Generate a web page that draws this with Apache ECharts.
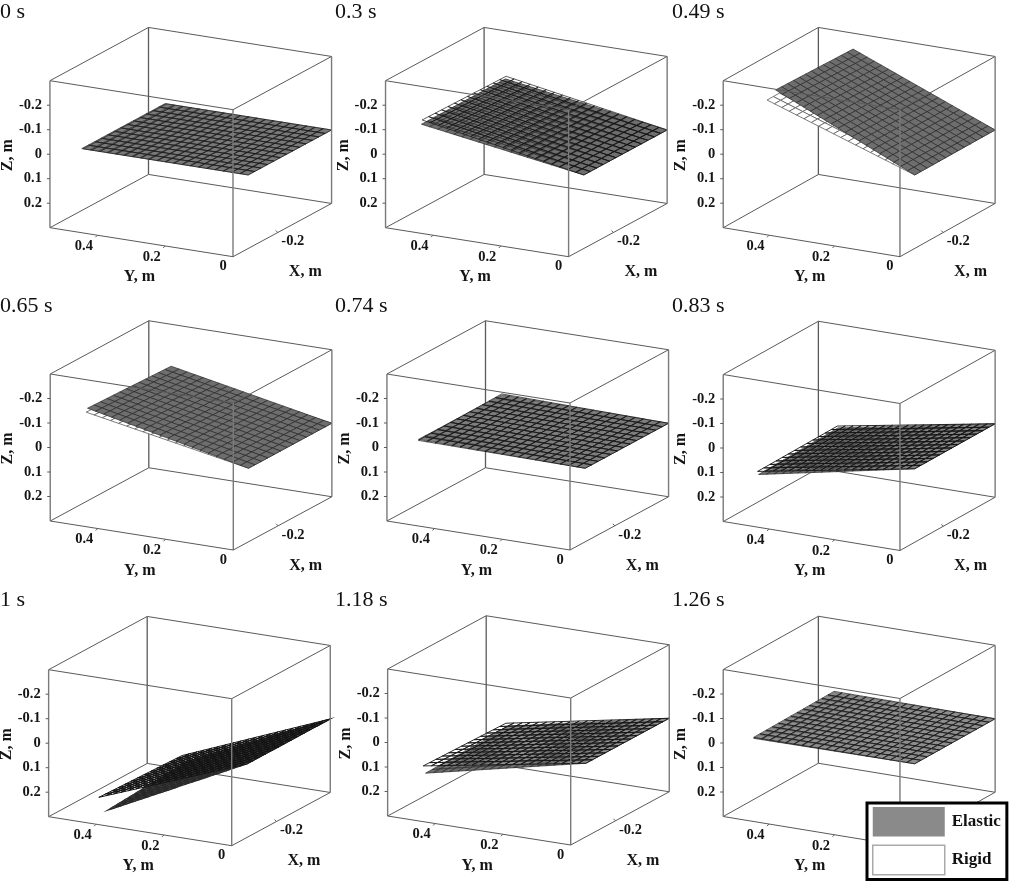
<!DOCTYPE html>
<html>
<head>
<meta charset="utf-8">
<style>
html,body{margin:0;padding:0;background:#fff}
#c{width:1011px;height:883px;filter:blur(0.45px)}
</style>
<script src="https://cdn.jsdelivr.net/npm/echarts@6/dist/echarts.min.js"></script>
</head>
<body>
<div id="c"></div>
<script>
// ---- data ----
const panelTimes  = ['0 s','0.3 s','0.49 s','0.65 s','0.74 s','0.83 s','1 s','1.18 s','1.26 s'];
// free edge of the plate (the edge at Y = 0 stays at Z = 0), metres
const elasticBackY = [0.491,0.477,0.434,0.474,0.492,0.480,0.420,0.472,0.492];
const elasticBackZ = [0.000,-0.104,-0.235,-0.129,-0.008,0.122,0.265,0.135,0.000];
const elasticLeftY = [0.491,0.479,0.425,0.475,0.492,0.477,0.411,0.473,0.492];
const elasticLeftZ = [0.000,-0.102,-0.254,-0.141,-0.010,0.128,0.279,0.144,0.004];
const rigidBackY   = [0.486,0.475,0.451,0.477,0.492,0.482,0.437,0.482,0.492];
const rigidBackZ   = [0.000,-0.115,-0.207,-0.115,-0.012,0.115,0.245,0.126,-0.004];
const rigidLeftY   = [0.486,0.477,0.451,0.479,0.492,0.480,0.437,0.480,0.492];
const rigidLeftZ   = [0.000,-0.120,-0.207,-0.124,-0.006,0.116,0.232,0.116,0.000];
const plateXNear = -0.068, plateXFar = -0.44;
const yTicks = [0.4,0.2,0];
const xTicks = [-0.2];
const zTicks = [-0.2,-0.1,0,0.1,0.2];
const axisY = [0,0.54], axisX = [0,-0.44], axisZ = [-0.3,0.3];
const meshY = 20, meshX = 13;

// ---- layout and drawing style ----
const frontBottom = [[233,256.7],[568.6,256.7],[906.7,256.7],[233.3,550],[570,550],[906.7,550.5],[231.7,845.7],[570.7,845],[906.7,845.5]];
const titleBase = [[0,1],[335,1],[672,1],[0,295],[335,295],[672,295],[0,589],[335,589],[672,589]];
const rigidOnTop  = [true,true,false,false,true,true,true,true,true];
const rigidVeil   = [0.08,0,0,0,0.1,0.14,0.08,0.22,0.22];
const rigidLine   = [0.5,0.7,0.8,0.8,0.7,0.9,1,0.9,0.7];
const elasticLine = [0.7,0.7,0.7,0.7,0.7,0.7,1.1,0.7,0.7];
const GW=310,GH=250,OX=195,OY=8;
// projection: metres -> plot units of each panel's hidden cartesian axes
function proj(X,Y,Z){ const Xp=-X; return [OX+224*Xp-339*Y, OY+73.5+121*Xp+53.7*Y-245*Z]; }
const SERIF='"Liberation Serif","Times New Roman",serif';
const lineC='#5a5a5a';

function plate(p,surf){
  const by=surf?rigidBackY:elasticBackY, bz=surf?rigidBackZ:elasticBackZ, ly=surf?rigidLeftY:elasticLeftY, lz=surf?rigidLeftZ:elasticLeftZ;
  return function(i,j){ // i along Y, j along X
    const s=i/meshY,t=j/meshX;
    const X=plateXNear+(plateXFar-plateXNear)*t;
    const tipY=ly[p]+(by[p]-ly[p])*t, tipZ=lz[p]+(bz[p]-lz[p])*t;
    return [X,tipY*s,tipZ*s];
  };
}
function poly(api,pts,style){
  return {type:'polygon',shape:{points:pts.map(q=>api.coord(proj(q[0],q[1],q[2])))},style:style,silent:true};
}
function seg(api,a,b,stroke,w){
  const A=api.coord(proj(a[0],a[1],a[2])),B=api.coord(proj(b[0],b[1],b[2]));
  return {type:'line',shape:{x1:A[0],y1:A[1],x2:B[0],y2:B[1]},style:{stroke:stroke,lineWidth:w,fill:null},silent:true};
}
const xa=axisX, ya=axisY, za=axisZ;
const C={FB:[xa[0],ya[0],za[1]],FT:[xa[0],ya[0],za[0]],LB:[xa[0],ya[1],za[1]],LT:[xa[0],ya[1],za[0]],
         RB:[xa[1],ya[0],za[1]],RT:[xa[1],ya[0],za[0]],BB:[xa[1],ya[1],za[1]],BT:[xa[1],ya[1],za[0]]};
const backEdges=[['BT','BB'],['BB','LB'],['BB','RB'],['BT','LT'],['BT','RT']];
const frontEdges=[['LT','FT'],['FT','RT'],['LT','LB'],['FT','FB'],['RT','RB'],['LB','FB'],['FB','RB']];
const series=[],grids=[],xAxes=[],yAxes=[],titles=[];

panelTimes.forEach((t,p)=>{
  const fb=frontBottom[p];
  grids.push({left:fb[0]-OX,top:fb[1]+OY-GH,width:GW,height:GH,show:false});
  xAxes.push({gridIndex:p,type:'value',min:0,max:GW,show:false});
  yAxes.push({gridIndex:p,type:'value',min:0,max:GH,show:false});
  titles.push({text:t,left:titleBase[p][0],top:titleBase[p][1],padding:0,textStyle:{fontFamily:SERIF,fontSize:22,fontWeight:'normal',color:'#111'}});

  // back of the box
  series.push({type:'custom',xAxisIndex:p,yAxisIndex:p,z:1,silent:true,animation:false,clip:false,
    data:backEdges.map((e,i)=>[i]),
    renderItem:(params,api)=>{const e=backEdges[params.dataIndex];
      return seg(api,C[e[0]],C[e[1]],lineC,e[0]==='BT'&&e[1]==='BB'?1.3:1);}});

  // both plates
  const surfs=[plate(p,0),plate(p,1)], cells=[];
  (rigidOnTop[p]?[0,1]:[1,0]).forEach(s=>{for(let i=meshY-1;i>=0;i--)for(let j=meshX-1;j>=0;j--){
    cells.push({s,i,j});
  }});
  const under=!rigidOnTop[p];
  series.push({type:'custom',xAxisIndex:p,yAxisIndex:p,z:2,silent:true,animation:false,clip:false,progressive:0,
    data:cells.map(c=>[c.s,c.i,c.j]),
    renderItem:(params,api)=>{
      const c=cells[params.dataIndex],f=surfs[c.s];
      const pts=[f(c.i,c.j),f(c.i+1,c.j),f(c.i+1,c.j+1),f(c.i,c.j+1)];
      const rigidStyle=under?{fill:'#ffffff',stroke:'#5a5a5a',lineWidth:rigidLine[p]}
        :{fill:'rgba(255,255,255,'+rigidVeil[p]+')',stroke:'#141414',lineWidth:rigidLine[p]};
      return poly(api,pts,c.s===0?{fill:'#6e6e6e',stroke:'#2a2a2a',lineWidth:elasticLine[p]}:rigidStyle);
    }});

  // front of the box, ticks and labels
  series.push({type:'custom',xAxisIndex:p,yAxisIndex:p,z:3,silent:true,animation:false,clip:false,
    data:[[p]],
    renderItem:(params,api)=>{
      const kids=[];
      frontEdges.forEach(e=>{const v=e[0]==='FT'&&e[1]==='FB'||e[0]==='RT'&&e[1]==='RB'||e[0]==='LT'&&e[1]==='LB';
        kids.push(seg(api,C[e[0]],C[e[1]],v?'#7a7a7a':lineC,v?1.4:1));});
      const txt=(P,dx,dy,s,o)=>{const q=api.coord(proj(P[0],P[1],P[2]));
        return Object.assign({type:'text',x:q[0]+dx,y:q[1]+dy,silent:true,
          style:{text:s,fontFamily:SERIF,fontWeight:'bold',fontSize:14.5,fill:'#151515',align:'center',verticalAlign:'middle'}},o||{});};
      zTicks.forEach(z=>{
        const P=[axisX[0],axisY[1],z],q=api.coord(proj(P[0],P[1],P[2]));
        kids.push({type:'line',shape:{x1:q[0]-3,y1:q[1],x2:q[0],y2:q[1]},style:{stroke:lineC,lineWidth:1},silent:true});
        const k=txt(P,-8,0,String(z)); k.style.align='right'; kids.push(k);
      });
      yTicks.forEach(y=>{
        const P=[axisX[0],y,axisZ[1]],q=api.coord(proj(P[0],P[1],P[2]));
        if(y>0) kids.push({type:'line',shape:{x1:q[0],y1:q[1],x2:q[0]-2,y2:q[1]+2},style:{stroke:lineC,lineWidth:1},silent:true});
        kids.push(txt(P,y>0?-13.5:-10,y>0?11:10,String(y)));
      });
      xTicks.forEach(x=>{
        const P=[x,axisY[0],axisZ[1]],q=api.coord(proj(P[0],P[1],P[2]));
        kids.push({type:'line',shape:{x1:q[0],y1:q[1],x2:q[0]-2,y2:q[1]-2},style:{stroke:lineC,lineWidth:1},silent:true});
        kids.push(txt(P,15,9,String(x)));
      });
      const name=(P,dx,dy,s,o)=>{const k=txt(P,dx,dy,s,o);k.style.fontSize=16;return k;};
      kids.push(name([axisX[0],(axisY[0]+axisY[1])/2,axisZ[1]],-2,35,'Y, m'));
      kids.push(name([(axisX[0]+axisX[1])/2,axisY[0],axisZ[1]],23,42,'X, m'));
      kids.push(name([axisX[0],axisY[1],0],-42,1,'Z, m',{rotation:Math.PI/2}));
      return {type:'group',children:kids};
    }});
});
series.push({type:'custom',name:'Elastic',xAxisIndex:0,yAxisIndex:0,data:[],renderItem:()=>null});
series.push({type:'custom',name:'Rigid',xAxisIndex:0,yAxisIndex:0,data:[],renderItem:()=>null});

const chart=echarts.init(document.getElementById('c'),null,{width:1011,height:883});
chart.setOption({
  animation:false,backgroundColor:'#fff',
  title:titles,grid:grids,xAxis:xAxes,yAxis:yAxes,series:series,
  legend:{orient:'vertical',left:867,top:803,padding:[4,6,4,5],itemWidth:72,itemHeight:29.5,itemGap:8,
    backgroundColor:'#fff',borderColor:'#000',borderWidth:3,selectedMode:false,icon:'rect',z:10,
    textStyle:{fontFamily:SERIF,fontWeight:'bold',fontSize:17,color:'#111',padding:[0,0,0,2]},
    data:[{name:'Elastic',itemStyle:{color:'#8a8a8a',borderWidth:0}},
          {name:'Rigid',itemStyle:{color:'#fff',borderColor:'#aaa',borderWidth:1.5}}]}
});
</script>
</body>
</html>
